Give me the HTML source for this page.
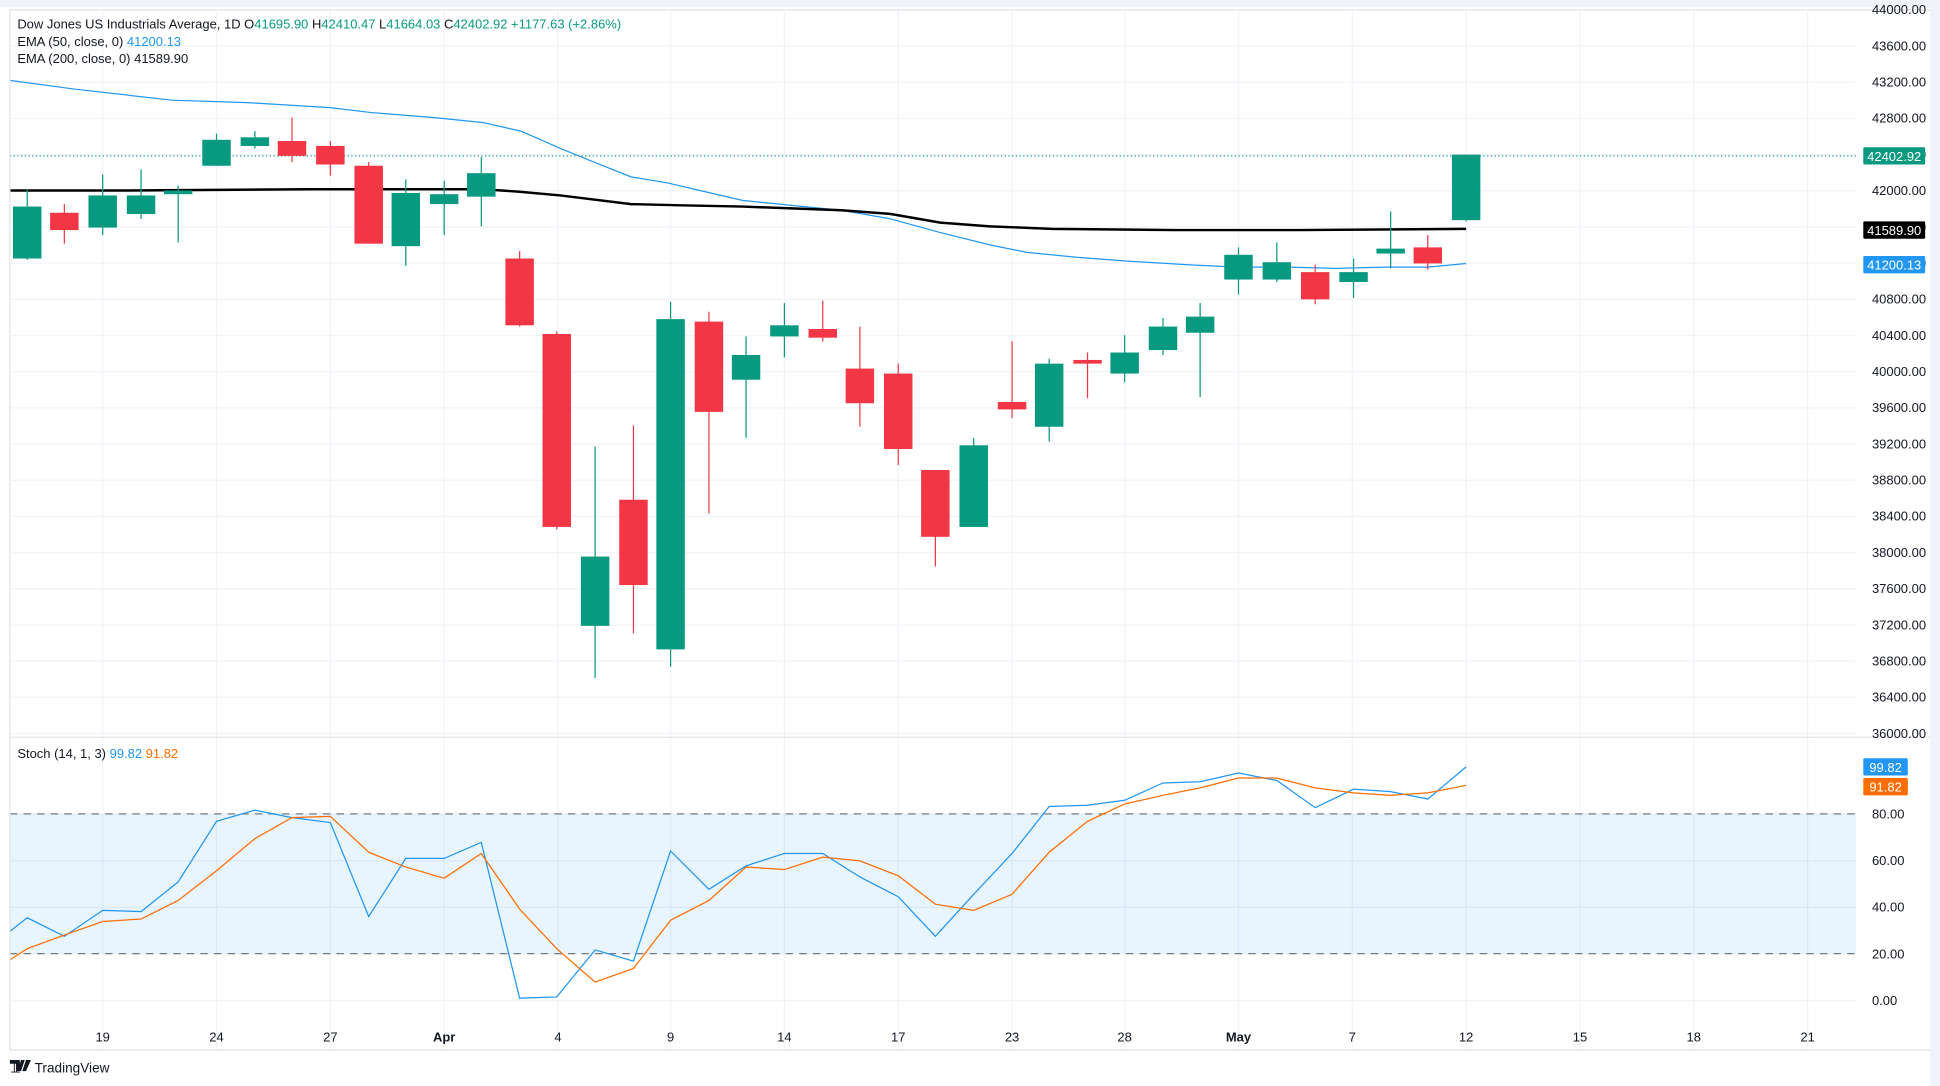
<!DOCTYPE html>
<html><head><meta charset="utf-8"><style>
html,body{margin:0;padding:0;background:#fff;}
svg{display:block;}
text{font-family:"Liberation Sans","DejaVu Sans",sans-serif;}
</style></head><body>
<svg id="s" width="1940" height="1086" viewBox="0 0 1568 878" preserveAspectRatio="none" xmlns="http://www.w3.org/2000/svg">
<rect x="0" y="0" width="1568" height="878" fill="#fff"/>
<rect x="0" y="0" width="1568" height="6" fill="#f0f3fa"/>
<rect x="1560" y="0" width="8" height="878" fill="#f0f3fa"/>
<g id="grid"></g>
<rect x="8" y="658" width="1492" height="113" fill="#2196f3" fill-opacity="0.1"/>
<line x1="8" y1="658" x2="1500" y2="658" stroke="#787b86" stroke-dasharray="6,5" stroke-width="1"/>
<line x1="8" y1="771" x2="1500" y2="771" stroke="#787b86" stroke-dasharray="6,5" stroke-width="1"/>
<line x1="8" y1="126" x2="1500" y2="126" stroke="#089981" stroke-dasharray="1,2" stroke-width="1"/>
<polyline fill="none" stroke="#2196f3" stroke-width="1" points="8,65 60,72 139,81 200,83 267,87 300,91 350,95 390,99 421,106 453,120 480,131 510,143 540,148 570,155 600,162 640,166 680,170 720,177 760,188 800,198 830,204 870,208 910,211 960,214 1000,216 1040,216 1080,217 1120,216 1154,216 1185,213"/>
<polyline fill="none" stroke="#000" stroke-width="2" points="8,154 100,154 250,153 390,153 420,155 453,158 510,165 550,166 600,167 680,170 720,173 760,180 800,183 850,185 950,186 1050,186 1185,185"/>
<g id="candles"></g>
<polyline fill="none" stroke="#2196f3" stroke-width="1" points="8,753 22,742 52,757 83,736 114,737 144,713 175,664 206,655 236,661 267,665 298,741 328,694 359,694 389,681 420,807 450,806 481,768 512,777 542,688 573,719 603,700 634,690 665,690 695,709 726,725 756,757 787,723 818,690 848,652 879,651 909,647 940,633 970,632 1001,625 1032,631 1063,653 1094,638 1124,640 1154,646 1185,620"/>
<polyline fill="none" stroke="#ff6d00" stroke-width="1" points="8,776 22,767 52,756 83,745 114,743 144,728 175,704 206,678 236,661 267,660 298,689 328,701 359,710 389,690 420,735 450,767 481,794 512,783 542,744 573,728 603,701 634,703 665,693 695,696 726,708 756,731 787,736 818,723 848,689 879,664 909,650 940,643 970,637 1001,629 1032,629 1063,637 1094,641 1124,643 1154,641 1185,635"/>
<line x1="8" y1="8" x2="1560" y2="8" stroke="#e0e3eb"/>
<line x1="8" y1="8" x2="8" y2="849" stroke="#e0e3eb"/>
<line x1="8" y1="596" x2="1560" y2="596" stroke="#e0e3eb"/>
<line x1="8" y1="849" x2="1560" y2="849" stroke="#e0e3eb"/>
<rect x="1501" y="9" width="58" height="586" fill="#fff"/>
<rect x="1501" y="597" width="58" height="251" fill="#fff"/>
<g id="axis" font-size="10.5" fill="#131722"></g>
<rect x="1506" y="119" width="50" height="14" rx="1" fill="#089981"/>
<text x="1531" y="130" font-size="10.5" fill="#fff" text-anchor="middle">42402.92</text>
<rect x="1506" y="179" width="50" height="14" rx="1" fill="#000"/>
<text x="1531" y="190" font-size="10.5" fill="#fff" text-anchor="middle">41589.90</text>
<rect x="1506" y="207" width="50" height="14" rx="1" fill="#2196f3"/>
<text x="1531" y="218" font-size="10.5" fill="#fff" text-anchor="middle">41200.13</text>
<rect x="1506" y="613" width="36" height="14" rx="1" fill="#2196f3"/>
<text x="1524" y="624" font-size="10.5" fill="#fff" text-anchor="middle">99.82</text>
<rect x="1506" y="629" width="36" height="14" rx="1" fill="#ff6d00"/>
<text x="1524" y="640" font-size="10.5" fill="#fff" text-anchor="middle">91.82</text>
<g font-size="10.5" fill="#131722">
<text x="14" y="23">Dow Jones US Industrials Average, 1D  O<tspan fill="#089981">41695.90</tspan>  H<tspan fill="#089981">42410.47</tspan>  L<tspan fill="#089981">41664.03</tspan>  C<tspan fill="#089981">42402.92</tspan> <tspan fill="#089981">+1177.63 (+2.86%)</tspan></text>
<text x="14" y="37">EMA (50, close, 0)  <tspan fill="#2196f3">41200.13</tspan></text>
<text x="14" y="51">EMA (200, close, 0)  41589.90</text>
<text x="14" y="613">Stoch (14, 1, 3)  <tspan fill="#2196f3">99.82</tspan>  <tspan fill="#ff6d00">91.82</tspan></text>
</g>
<g font-size="13" fill="#131722">
<text x="8" y="867" font-weight="bold" font-size="13">𝟙</text>
</g>
<path d="M8,857 h8 v9 h-3 v-6 h-5z M17,857 h3 l-3,9 h-3z M21,857 h4 l-4,9 h-3z" fill="#131722"/>
<text x="28" y="867" font-size="11" fill="#131722">TradingView</text>
</svg>
<script>
var NS="http://www.w3.org/2000/svg";
function el(p,t,a,txt){var e=document.createElementNS(NS,t);for(var k in a)e.setAttribute(k,a[k]);if(txt!==undefined)e.textContent=txt;p.appendChild(e);return e;}
var grid=document.getElementById("grid"),axis=document.getElementById("axis"),cg=document.getElementById("candles");
var xs=[83,175,267,359,451,542,634,726,818,909,1001,1093,1185,1277,1369,1461];
var lb=["19","24","27","Apr","4","9","14","17","23","28","May","7","12","15","18","21"];
xs.forEach(function(x,i){
 el(grid,"line",{x1:x,y1:8,x2:x,y2:596,stroke:"#f0f3fa"});
 el(grid,"line",{x1:x,y1:596,x2:x,y2:849,stroke:"#f0f3fa"});
 el(axis,"text",{x:x,y:842,"text-anchor":"middle","font-weight":(lb[i]=="Apr"||lb[i]=="May")?"bold":"normal"},lb[i]);
});
for(var p=36000;p<=44000;p+=400){
 var y=8+(44000-p)*0.073125;
 el(grid,"line",{x1:8,y1:y,x2:1500,y2:y,stroke:"#f0f3fa"});
 if(p!=44000||true) el(axis,"text",{x:1513,y:y+3.5},p.toFixed(2));
}
[0,20,40,60,80].forEach(function(s){
 var y=809-s*1.885;
 el(grid,"line",{x1:8,y1:y,x2:1500,y2:y,stroke:"#f0f3fa"});
 el(axis,"text",{x:1513,y:y+3.5},s.toFixed(2));
});
// x, bodyTop, bodyBot, wickTop, wickBot, green?
var C=[
[22,167,209,153,210,1],[52,172,186,165,197,0],[83,158,184,141,190,1],[114,158,173,137,177,1],[144,154,157,150,196,1],
[175,113,134,108,134,1],[206,111,118,106,120,1],[236,114,126,95,131,0],[267,118,133,114,142,0],[298,134,197,131,197,0],
[328,156,199,145,215,1],[359,157,165,146,190,1],[389,140,159,127,183,1],[420,209,263,203,264,0],[450,270,426,268,428,0],
[481,450,506,361,548,1],[512,404,473,344,512,0],[542,258,525,244,539,1],[573,260,333,252,415,0],[603,287,307,272,354,1],
[634,263,272,245,289,1],[665,266,273,243,276,0],[695,298,326,264,345,0],[726,302,363,294,376,0],[756,380,434,380,458,0],
[787,360,426,354,426,1],[818,325,331,276,338,0],[848,294,345,290,357,1],[879,291,294,285,322,0],[909,285,302,271,309,1],
[940,264,283,257,287,1],[970,256,269,245,321,1],[1001,206,226,200,238,1],[1032,212,226,196,228,1],[1063,220,242,214,246,0],
[1094,220,228,209,241,1],[1124,201,205,171,217,1],[1154,200,213,190,218,0],[1185,125,178,125,179,1]];
C.forEach(function(c){
 var col=c[5]?"#089981":"#f23645";
 el(cg,"line",{x1:c[0],y1:c[3],x2:c[0],y2:c[4],stroke:col,"stroke-width":1});
 el(cg,"rect",{x:c[0]-11.5,y:c[1],width:23,height:Math.max(c[2]-c[1],1.5),fill:col});
});
</script>
</body></html>
